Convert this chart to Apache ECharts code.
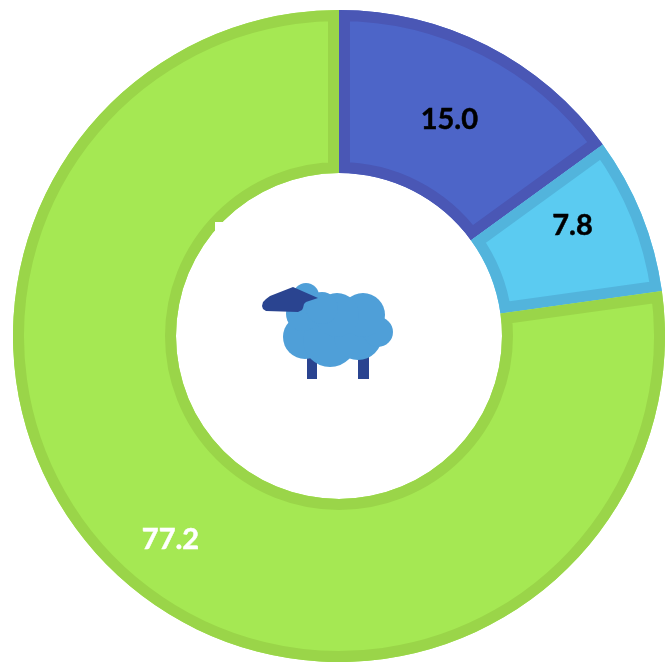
<!DOCTYPE html>
<html>
<head>
<meta charset="utf-8">
<style>
html, body { margin: 0; background: #fff; }
#chart { width: 667px; height: 664px; }
</style>
<script src="https://cdn.jsdelivr.net/npm/echarts@6/dist/echarts.min.js"></script>
</head>
<body>
<div id="chart"></div>
<script>
var categories = ['A', 'B', 'C']
var values = [15.0, 7.8, 77.2]
var fillColors = ['#4d65c8', '#5bcbf1', '#a5e853']
var borderColors = ['#4a57b5', '#52b4dc', '#9ad549']
var labelColors = ['#000', '#000', '#fff']
var labelOffsets = [[-2, 4], [4, -18], [-6, 17]]

var woolBlue = '#4f9fd8'
var darkBlue = '#2a4490'

// sheep in the hole of the ring
var woolCircles = [
    [305, 337, 22], [330, 340, 27], [358, 336, 24], [378, 332, 15],
    [363, 315, 22], [337, 315, 22], [303, 314, 17], [306, 296, 13], [322, 308, 16]
]
var earPoints = [
    [262, 306], [263, 302], [266, 299], [270, 296], [293, 287], [318, 298], [306, 302],
    [304, 304], [303, 308], [302, 310], [298, 312], [266, 311], [263, 309]
]

var cx = 339
var cy = 336
var innerR = 163
var outerR = 326
var borderW = 11

var myChart = echarts.init(document.getElementById('chart'))

var graphics = [
    // small white notch on the ring
    { type: 'rect', shape: { x: 215, y: 222, width: 14, height: 14 }, style: { fill: '#fff' }, z: 20 },
    { type: 'rect', shape: { x: 307, y: 355, width: 10, height: 24 }, style: { fill: darkBlue }, z: 20 },
    { type: 'rect', shape: { x: 358, y: 355, width: 11, height: 24 }, style: { fill: darkBlue }, z: 20 }
]
woolCircles.forEach(function (c) {
    graphics.push({ type: 'circle', shape: { cx: c[0], cy: c[1], r: c[2] }, style: { fill: woolBlue }, z: 21 })
})
graphics.push({ type: 'polygon', shape: { points: earPoints }, style: { fill: darkBlue }, z: 22 })

var total = values.reduce(function (a, b) { return a + b }, 0)

// border sits inside each slice: stroke twice as wide, clipped to the slice
function renderBorder(params, api) {
    var before = 0
    for (var i = 0; i < params.dataIndex; i++) before += values[i]
    var start = -Math.PI / 2 + before / total * Math.PI * 2
    var end = start + api.value(0) / total * Math.PI * 2
    var shape = { cx: cx, cy: cy, r0: innerR, r: outerR, startAngle: start, endAngle: end, clockwise: true }
    return {
        type: 'sector',
        shape: shape,
        clipPath: { type: 'sector', shape: shape },
        style: {
            fill: 'none',
            stroke: borderColors[params.dataIndex],
            lineWidth: borderW * 2,
            lineJoin: 'miter',
            miterLimit: 10
        }
    }
}

myChart.setOption({
    animation: false,
    graphic: graphics,
    series: [
        {
            type: 'pie',
            center: [cx, cy],
            radius: [innerR, outerR],
            startAngle: 90,
            silent: true,
            data: categories.map(function (name, i) {
                return {
                    name: name,
                    value: values[i],
                    itemStyle: { color: fillColors[i] },
                    label: {
                        show: true,
                        position: 'inside',
                        formatter: values[i].toFixed(1),
                        color: labelColors[i],
                        fontFamily: 'Lato',
                        fontWeight: 'bold',
                        fontSize: 29,
                        textBorderColor: labelColors[i],
                        textBorderWidth: 0.5,
                        offset: labelOffsets[i]
                    }
                }
            })
        },
        {
            type: 'custom',
            coordinateSystem: 'none',
            silent: true,
            data: values,
            renderItem: renderBorder,
            z: 3
        }
    ]
})
</script>
</body>
</html>
